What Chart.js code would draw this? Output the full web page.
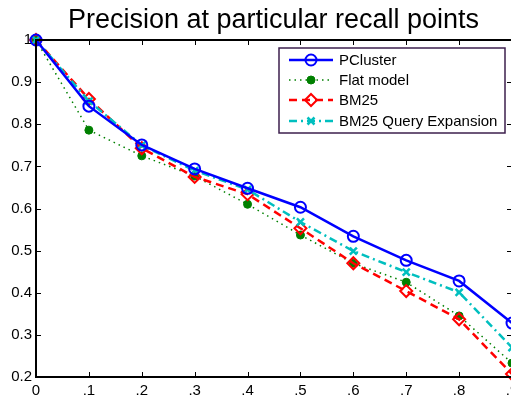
<!DOCTYPE html>
<html>
<head>
<meta charset="utf-8">
<script src="https://cdn.jsdelivr.net/npm/chart.js@4.4.0/dist/chart.umd.min.js"></script>
<style>
  html, body { margin: 0; padding: 0; background: #fff; }
  #wrap { width: 511px; height: 398px; overflow: hidden; position: relative; }
  canvas { display: block; }
</style>
</head>
<body>
<div id="wrap"><canvas id="chart" width="540" height="398" style="width:540px;height:398px"></canvas></div>
<script>
// Precision at particular recall points
const titleText = 'Precision at particular recall points';
const recall = [0, 0.1, 0.2, 0.3, 0.4, 0.5, 0.6, 0.7, 0.8, 0.9];
const seriesNames = ['PCluster', 'Flat model', 'BM25', 'BM25 Query Expansion'];
const pcluster = [1.0, 0.843, 0.751, 0.694, 0.648, 0.603, 0.534, 0.477, 0.428, 0.328];
const flatModel = [1.0, 0.786, 0.725, 0.677, 0.61, 0.537, 0.47, 0.425, 0.345, 0.233];
const bm25 = [1.0, 0.86, 0.743, 0.675, 0.634, 0.553, 0.47, 0.404, 0.337, 0.207];
const bm25qe = [1.0, 0.855, 0.75, 0.69, 0.645, 0.568, 0.499, 0.449, 0.401, 0.27];

const FONT = '"Liberation Sans", Arial, sans-serif';

function pts(vals) {
  return vals.map((v, i) => ({ x: recall[i], y: v }));
}

const datasets = [
  {
    label: seriesNames[0], data: pts(pcluster),
    borderColor: '#0000ff', backgroundColor: 'rgba(0,0,0,0)', borderWidth: 2.5,
    pointStyle: 'circle', pointRadius: 5.5, pointBorderWidth: 2,
    pointBorderColor: '#0000ff', pointBackgroundColor: 'rgba(0,0,0,0)', order: 1
  },
  {
    label: seriesNames[1], data: pts(flatModel),
    borderColor: '#008000', backgroundColor: '#008000', borderWidth: 1.5,
    borderDash: [1.5, 4],
    pointStyle: 'circle', pointRadius: 4, pointBorderWidth: 1,
    pointBorderColor: '#008000', pointBackgroundColor: '#008000', order: 4
  },
  {
    label: seriesNames[2], data: pts(bm25),
    borderColor: '#ff0000', backgroundColor: 'rgba(0,0,0,0)', borderWidth: 2.5,
    borderDash: [8, 5],
    pointStyle: 'rectRot', pointRadius: 6, pointBorderWidth: 2,
    pointBorderColor: '#ff0000', pointBackgroundColor: 'rgba(0,0,0,0)', order: 3
  },
  {
    label: seriesNames[3], data: pts(bm25qe),
    borderColor: '#00bfbf', backgroundColor: 'rgba(0,0,0,0)', borderWidth: 2.5,
    borderDash: [8, 4, 2, 4],
    pointStyle: 'crossRot', pointRadius: 5, pointBorderWidth: 2.5,
    pointBorderColor: '#00bfbf', pointBackgroundColor: 'rgba(0,0,0,0)', order: 2
  }
];

function drawMarker(ctx, ds, x, y) {
  const r = ds.pointRadius;
  ctx.save();
  ctx.setLineDash([]);
  ctx.lineWidth = ds.pointBorderWidth;
  ctx.strokeStyle = ds.pointBorderColor;
  ctx.fillStyle = ds.pointBackgroundColor;
  ctx.beginPath();
  if (ds.pointStyle === 'circle') {
    ctx.arc(x, y, r, 0, Math.PI * 2);
    ctx.fill();
    ctx.stroke();
  } else if (ds.pointStyle === 'rectRot') {
    ctx.moveTo(x, y - r); ctx.lineTo(x + r, y); ctx.lineTo(x, y + r); ctx.lineTo(x - r, y);
    ctx.closePath();
    ctx.stroke();
  } else {
    const d = r * 0.7;
    ctx.moveTo(x - d, y - d); ctx.lineTo(x + d, y + d);
    ctx.moveTo(x + d, y - d); ctx.lineTo(x - d, y + d);
    ctx.stroke();
  }
  ctx.restore();
}

const framePlugin = {
  id: 'frame',
  afterDraw(chart) {
    const { ctx, chartArea: a, scales } = chart;
    ctx.save();
    // axes box
    ctx.strokeStyle = '#000';
    ctx.lineWidth = 2;
    ctx.setLineDash([]);
    ctx.strokeRect(a.left, a.top, a.right - a.left, a.bottom - a.top);
    // inward ticks
    ctx.lineWidth = 1;
    const tl = 5;
    scales.x.ticks.forEach(t => {
      const px = Math.round(scales.x.getPixelForValue(t.value)) + 0.5;
      ctx.beginPath();
      ctx.moveTo(px, a.bottom); ctx.lineTo(px, a.bottom - tl);
      ctx.moveTo(px, a.top); ctx.lineTo(px, a.top + tl);
      ctx.stroke();
    });
    scales.y.ticks.forEach(t => {
      const py = Math.round(scales.y.getPixelForValue(t.value)) + 0.5;
      ctx.beginPath();
      ctx.moveTo(a.left, py); ctx.lineTo(a.left + tl, py);
      ctx.moveTo(a.right, py); ctx.lineTo(a.right - tl, py);
      ctx.stroke();
    });
    // title
    ctx.fillStyle = '#000';
    ctx.font = '27px ' + FONT;
    ctx.textAlign = 'center';
    ctx.textBaseline = 'alphabetic';
    ctx.fillText(titleText, (a.left + 511) / 2, 28);

    // legend box
    const bx = 279, by = 48, bw = 226, bh = 85;
    ctx.fillStyle = '#fff';
    ctx.fillRect(bx, by, bw, bh);
    ctx.strokeStyle = '#3d1f4d';
    ctx.lineWidth = 1.5;
    ctx.strokeRect(bx, by, bw, bh);
    ctx.font = '15px ' + FONT;
    ctx.textAlign = 'left';
    ctx.textBaseline = 'middle';
    const rowsY = [60, 80, 100, 121];
    chart.data.datasets.forEach((ds, i) => {
      const y = rowsY[i];
      ctx.save();
      ctx.strokeStyle = ds.borderColor;
      ctx.lineWidth = ds.borderWidth;
      ctx.setLineDash(ds.borderDash || []);
      ctx.beginPath();
      ctx.moveTo(289, y); ctx.lineTo(333, y);
      ctx.stroke();
      ctx.restore();
      drawMarker(ctx, ds, 311, y);
      ctx.fillStyle = '#000';
      ctx.fillText(ds.label, 339, y + 1);
    });
    ctx.restore();
  }
};

new Chart(document.getElementById('chart'), {
  type: 'line',
  data: { datasets },
  options: {
    responsive: false,
    animation: false,
    devicePixelRatio: 1,
    layout: { padding: { top: 40, right: 28, left: 0, bottom: 0 } },
    plugins: {
      legend: { display: false },
      title: { display: false },
      tooltip: { enabled: false }
    },
    elements: { line: { tension: 0 } },
    datasets: { line: { clip: false } },
    scales: {
      x: {
        type: 'linear', min: 0, max: 0.9,
        grid: { display: false, drawTicks: false },
        border: { display: false },
        afterFit(s) { s.height = 21; },
        ticks: {
          stepSize: 0.1, padding: 5, color: '#000',
          font: { family: FONT, size: 15 },
          maxRotation: 0, autoSkip: false,
          callback: v => {
            const n = Math.round(v * 10);
            return n === 0 ? '0' : '.' + n;
          }
        }
      },
      y: {
        type: 'linear', min: 0.2, max: 1,
        grid: { display: false, drawTicks: false },
        border: { display: false },
        afterFit(s) { s.width = 36; },
        ticks: {
          stepSize: 0.1, padding: 4, color: '#000',
          font: { family: FONT, size: 15 },
          callback: v => {
            const n = Math.round(v * 10);
            return n === 10 ? '1' : (n / 10).toFixed(1);
          }
        }
      }
    }
  },
  plugins: [framePlugin]
});
</script>
</body>
</html>
